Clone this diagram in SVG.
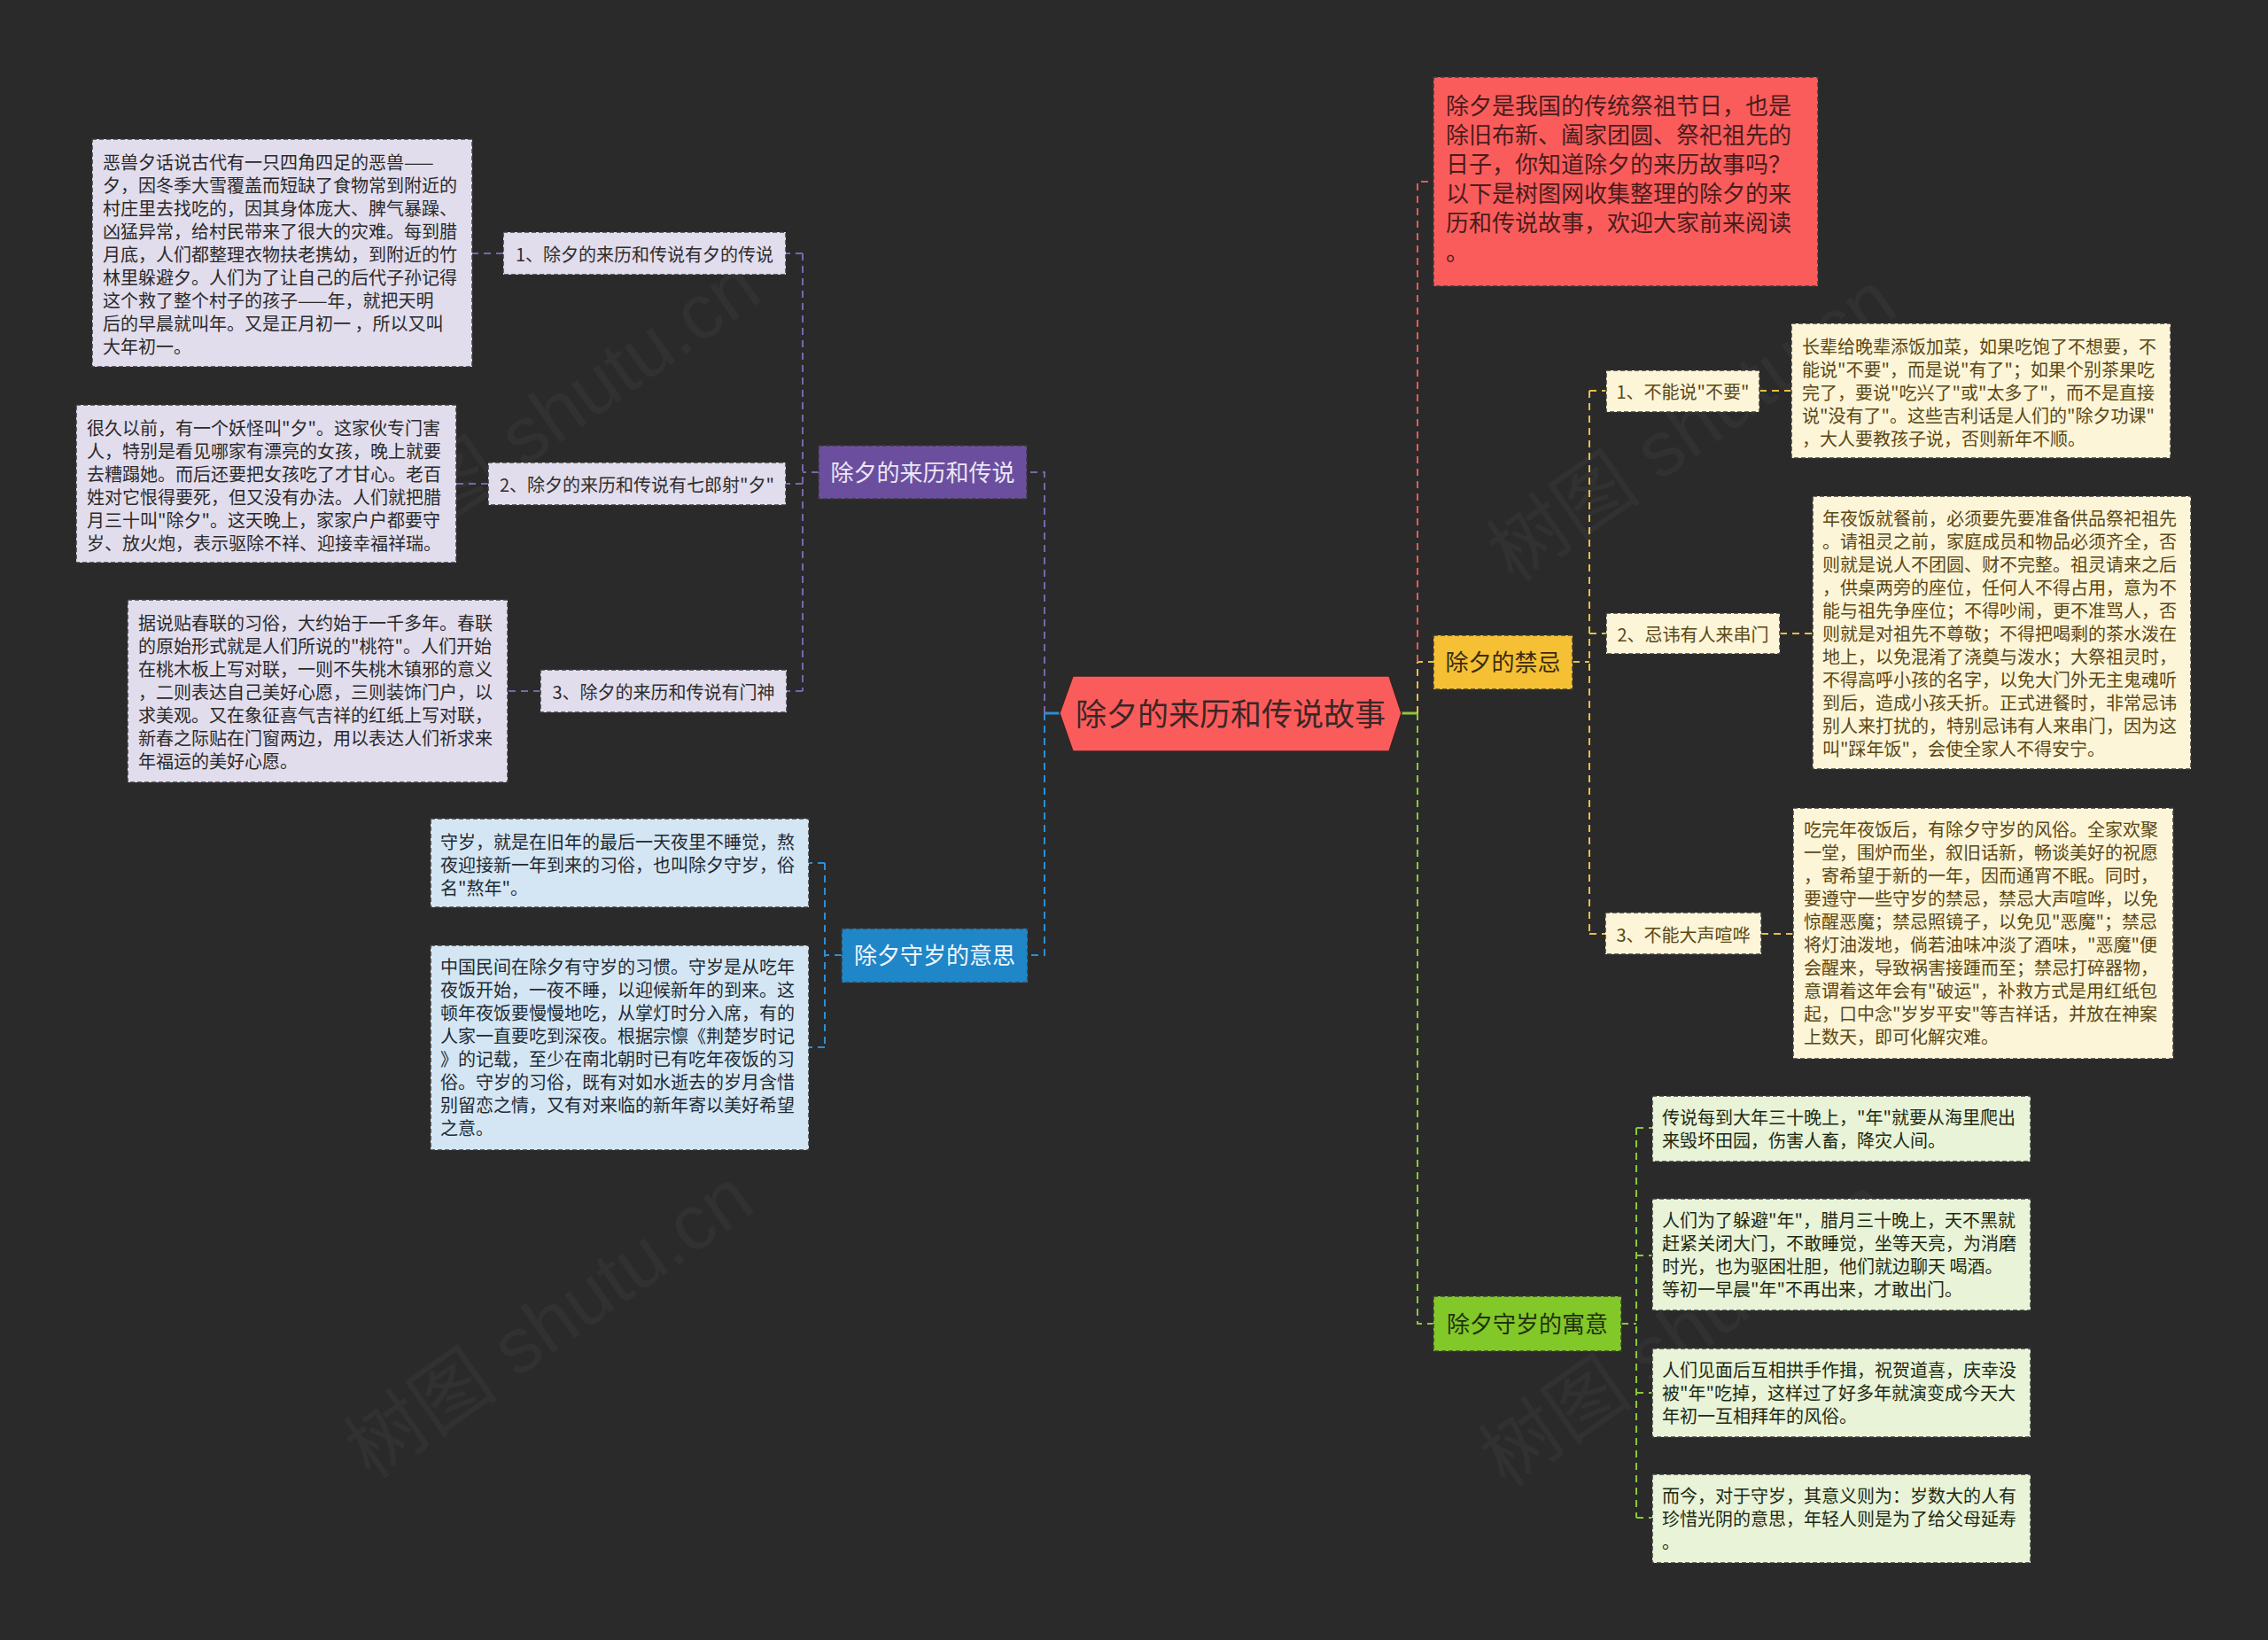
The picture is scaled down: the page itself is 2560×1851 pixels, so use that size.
<svg xmlns="http://www.w3.org/2000/svg" width="2560" height="1851" viewBox="0 0 2560 1851">
<style>
text{font-family:"Noto Sans CJK SC","Noto Sans",sans-serif;}
.leaf{font-size:20px;dominant-baseline:central;}
.box{stroke:#3a3a3a;stroke-width:1.5;stroke-dasharray:5 3;}
.c{fill:none;stroke-width:2;stroke-dasharray:8 6;}
.cs{fill:none;stroke-width:3;}
.wm{font-size:88px;fill:#ffffff;opacity:0.03;font-family:"Liberation Sans","Noto Sans CJK SC",sans-serif;}
</style>
<rect x="0" y="0" width="2560" height="1851" fill="#2a2a2a"/>
<g id="watermarks">
<text class="wm" x="645" y="490" text-anchor="middle" transform="rotate(-35 645 490)">树图 shutu.cn</text>
<text class="wm" x="1927" y="506" text-anchor="middle" transform="rotate(-35 1927 506)">树图 shutu.cn</text>
<text class="wm" x="637" y="1518" text-anchor="middle" transform="rotate(-35 637 1518)">树图 shutu.cn</text>
<text class="wm" x="1918" y="1527" text-anchor="middle" transform="rotate(-35 1918 1527)">树图 shutu.cn</text>
</g>
<g id="connectors">
<path class="cs" stroke="#2b8fd6" d="M1196 805 H1179"/>
<path class="c" stroke="#7a66aa" d="M1179 805 V533 H1159"/>
<path class="c" stroke="#2b8fd6" d="M1179 805 V1078 H1160"/>
<path class="c" stroke="#7a66aa" d="M924 533 H906"/>
<path class="c" stroke="#7a66aa" d="M906 286 V780"/>
<path class="c" stroke="#7a66aa" d="M906 286 H887 M568 286 H533"/>
<path class="c" stroke="#7a66aa" d="M906 546 H887 M551 546 H515"/>
<path class="c" stroke="#7a66aa" d="M906 780 H888 M610 780 H573"/>
<path class="c" stroke="#2b8fd6" d="M950 1078 H931 M931 974 V1182 M931 974 H913 M931 1182 H913"/>
<path class="cs" stroke="#8ac73a" d="M1582 805 H1600"/>
<path class="c" stroke="#8ac73a" d="M1600 805 V1494 H1618"/>
<path class="c" stroke="#e6bf45" d="M1600 805 V747 H1618"/>
<path class="c" stroke="#e85858" d="M1600 747 V205 H1618"/>
<path class="c" stroke="#e6bf45" d="M1775 747 H1794 M1794 441 V1054"/>
<path class="c" stroke="#e6bf45" d="M1794 441 H1813 M1986 441 H2022"/>
<path class="c" stroke="#e6bf45" d="M1794 715 H1813 M2009 715 H2046"/>
<path class="c" stroke="#e6bf45" d="M1794 1054 H1812 M1988 1054 H2024"/>
<path class="c" stroke="#8ac73a" d="M1830 1494 H1847 M1847 1273 V1713"/>
<path class="c" stroke="#8ac73a" d="M1847 1273 H1865 M1847 1417 H1865 M1847 1572 H1865 M1847 1713 H1865"/>
</g>
<g id="center">
<polygon points="1196,805 1211,763 1568,763 1582,805 1568,848 1211,848" fill="#fa5c5c" stroke="#3a2222" stroke-width="1.5"/>
<text x="1389" y="803" font-size="35" fill="#3b2626" text-anchor="middle" dominant-baseline="central">除夕的来历和传说故事</text>
</g>
<g id="intro">
<rect class="box" x="1618" y="87" width="434" height="236" fill="#fa5c5c"/>
<text font-size="26" fill="#4a1c1c" dominant-baseline="central" transform="translate(0,-4)">
<tspan x="1632" y="121">除夕是我国的传统祭祖节日，也是</tspan>
<tspan x="1632" y="154">除旧布新、阖家团圆、祭祀祖先的</tspan>
<tspan x="1632" y="187">日子，你知道除夕的来历故事吗？</tspan>
<tspan x="1632" y="220">以下是树图网收集整理的除夕的来</tspan>
<tspan x="1632" y="253">历和传说故事，欢迎大家前来阅读</tspan>
<tspan x="1632" y="286">。</tspan>
</text>
</g>
<g id="branch-purple">
<rect class="box" x="924" y="503" width="235" height="60" fill="#6b4f9e"/>
<text x="1041.5" y="531" font-size="26" fill="#ece6f6" text-anchor="middle" dominant-baseline="central">除夕的来历和传说</text>
</g>
<g id="label-p1">
<rect class="box" x="568" y="262" width="319" height="48" fill="#e2dded"/>
<text class="leaf" x="727.5" y="286" fill="#2e2e2e" text-anchor="middle">1、除夕的来历和传说有夕的传说</text>
</g>
<g id="label-p2">
<rect class="box" x="551" y="522" width="336" height="48" fill="#e2dded"/>
<text class="leaf" x="719" y="546" fill="#2e2e2e" text-anchor="middle">2、除夕的来历和传说有七郎射"夕"</text>
</g>
<g id="label-p3">
<rect class="box" x="610" y="756" width="278" height="48" fill="#e2dded"/>
<text class="leaf" x="749" y="780" fill="#2e2e2e" text-anchor="middle">3、除夕的来历和传说有门神</text>
</g>
<g id="leaf-p1">
<rect class="box" x="104" y="157" width="429" height="257" fill="#e2dded"/>
<text class="leaf" fill="#2a2a2a" transform="translate(0,-3)">
<tspan x="116" y="185">恶兽夕话说古代有一只四角四足的恶兽——</tspan>
<tspan x="116" y="211">夕，因冬季大雪覆盖而短缺了食物常到附近的</tspan>
<tspan x="116" y="237">村庄里去找吃的，因其身体庞大、脾气暴躁、</tspan>
<tspan x="116" y="263">凶猛异常，给村民带来了很大的灾难。每到腊</tspan>
<tspan x="116" y="289">月底，人们都整理衣物扶老携幼，到附近的竹</tspan>
<tspan x="116" y="315">林里躲避夕。人们为了让自己的后代子孙记得</tspan>
<tspan x="116" y="341">这个救了整个村子的孩子——年，就把天明</tspan>
<tspan x="116" y="367">后的早晨就叫年。又是正月初一 ，所以又叫</tspan>
<tspan x="116" y="393">大年初一。</tspan>
</text>
</g>
<g id="leaf-p2">
<rect class="box" x="86" y="457" width="429" height="178" fill="#e2dded"/>
<text class="leaf" fill="#2a2a2a" transform="translate(0,-3)">
<tspan x="98" y="485">很久以前，有一个妖怪叫"夕"。这家伙专门害</tspan>
<tspan x="98" y="511">人，特别是看见哪家有漂亮的女孩，晚上就要</tspan>
<tspan x="98" y="537">去糟蹋她。而后还要把女孩吃了才甘心。老百</tspan>
<tspan x="98" y="563">姓对它恨得要死，但又没有办法。人们就把腊</tspan>
<tspan x="98" y="589">月三十叫"除夕"。这天晚上，家家户户都要守</tspan>
<tspan x="98" y="615">岁、放火炮，表示驱除不祥、迎接幸福祥瑞。</tspan>
</text>
</g>
<g id="leaf-p3">
<rect class="box" x="144" y="677" width="429" height="206" fill="#e2dded"/>
<text class="leaf" fill="#2a2a2a" transform="translate(0,-3)">
<tspan x="156" y="705">据说贴春联的习俗，大约始于一千多年。春联</tspan>
<tspan x="156" y="731">的原始形式就是人们所说的"桃符"。人们开始</tspan>
<tspan x="156" y="757">在桃木板上写对联，一则不失桃木镇邪的意义</tspan>
<tspan x="156" y="783">，二则表达自己美好心愿，三则装饰门户，以</tspan>
<tspan x="156" y="809">求美观。又在象征喜气吉祥的红纸上写对联，</tspan>
<tspan x="156" y="835">新春之际贴在门窗两边，用以表达人们祈求来</tspan>
<tspan x="156" y="861">年福运的美好心愿。</tspan>
</text>
</g>
<g id="branch-blue">
<rect class="box" x="950" y="1048" width="210" height="61" fill="#1f86c8"/>
<text x="1055" y="1076" font-size="26" fill="#eef6fc" text-anchor="middle" dominant-baseline="central">除夕守岁的意思</text>
</g>
<g id="leaf-b1">
<rect class="box" x="486" y="924" width="427" height="100" fill="#d4e6f3"/>
<text class="leaf" fill="#1f2a33" transform="translate(0,-3)">
<tspan x="497" y="952">守岁，就是在旧年的最后一天夜里不睡觉，熬</tspan>
<tspan x="497" y="978">夜迎接新一年到来的习俗，也叫除夕守岁，俗</tspan>
<tspan x="497" y="1004">名"熬年"。</tspan>
</text>
</g>
<g id="leaf-b2">
<rect class="box" x="486" y="1067" width="427" height="231" fill="#d4e6f3"/>
<text class="leaf" fill="#1f2a33" transform="translate(0,-3)">
<tspan x="497" y="1093">中国民间在除夕有守岁的习惯。守岁是从吃年</tspan>
<tspan x="497" y="1119">夜饭开始，一夜不睡，以迎候新年的到来。这</tspan>
<tspan x="497" y="1145">顿年夜饭要慢慢地吃，从掌灯时分入席，有的</tspan>
<tspan x="497" y="1171">人家一直要吃到深夜。根据宗懔《荆楚岁时记</tspan>
<tspan x="497" y="1197">》的记载，至少在南北朝时已有吃年夜饭的习</tspan>
<tspan x="497" y="1223">俗。守岁的习俗，既有对如水逝去的岁月含惜</tspan>
<tspan x="497" y="1249">别留恋之情，又有对来临的新年寄以美好希望</tspan>
<tspan x="497" y="1275">之意。</tspan>
</text>
</g>
<g id="branch-yellow">
<rect class="box" x="1618" y="717" width="157" height="61" fill="#f5c033"/>
<text x="1696.5" y="745" font-size="26" fill="#3a2b10" text-anchor="middle" dominant-baseline="central">除夕的禁忌</text>
</g>
<g id="label-y1">
<rect class="box" x="1813" y="418" width="173" height="47" fill="#fdf5d8"/>
<text class="leaf" x="1899.5" y="441" fill="#5a4814" text-anchor="middle">1、不能说"不要"</text>
</g>
<g id="label-y2">
<rect class="box" x="1813" y="692" width="196" height="46" fill="#fdf5d8"/>
<text class="leaf" x="1911" y="715" fill="#5a4814" text-anchor="middle">2、忌讳有人来串门</text>
</g>
<g id="label-y3">
<rect class="box" x="1812" y="1030" width="176" height="47" fill="#fdf5d8"/>
<text class="leaf" x="1900" y="1054" fill="#5a4814" text-anchor="middle">3、不能大声喧哗</text>
</g>
<g id="leaf-y1">
<rect class="box" x="2022" y="365" width="428" height="152" fill="#fdf5d8"/>
<text class="leaf" fill="#5a4814" transform="translate(0,-3)">
<tspan x="2034" y="393">长辈给晚辈添饭加菜，如果吃饱了不想要，不</tspan>
<tspan x="2034" y="419">能说"不要"，而是说"有了"；如果个别茶果吃</tspan>
<tspan x="2034" y="445">完了，要说"吃兴了"或"太多了"，而不是直接</tspan>
<tspan x="2034" y="471">说"没有了"。这些吉利话是人们的"除夕功课"</tspan>
<tspan x="2034" y="497">，大人要教孩子说，否则新年不顺。</tspan>
</text>
</g>
<g id="leaf-y2">
<rect class="box" x="2046" y="560" width="427" height="308" fill="#fdf5d8"/>
<text class="leaf" fill="#5a4814" transform="translate(0,-3)">
<tspan x="2057" y="587">年夜饭就餐前，必须要先要准备供品祭祀祖先</tspan>
<tspan x="2057" y="613">。请祖灵之前，家庭成员和物品必须齐全，否</tspan>
<tspan x="2057" y="639">则就是说人不团圆、财不完整。祖灵请来之后</tspan>
<tspan x="2057" y="665">，供桌两旁的座位，任何人不得占用，意为不</tspan>
<tspan x="2057" y="691">能与祖先争座位；不得吵闹，更不准骂人，否</tspan>
<tspan x="2057" y="717">则就是对祖先不尊敬；不得把喝剩的茶水泼在</tspan>
<tspan x="2057" y="743">地上，以免混淆了浇奠与泼水；大祭祖灵时，</tspan>
<tspan x="2057" y="769">不得高呼小孩的名字，以免大门外无主鬼魂听</tspan>
<tspan x="2057" y="795">到后，造成小孩夭折。正式进餐时，非常忌讳</tspan>
<tspan x="2057" y="821">别人来打扰的，特别忌讳有人来串门，因为这</tspan>
<tspan x="2057" y="847">叫"踩年饭"，会使全家人不得安宁。</tspan>
</text>
</g>
<g id="leaf-y3">
<rect class="box" x="2024" y="912" width="429" height="283" fill="#fdf5d8"/>
<text class="leaf" fill="#5a4814" transform="translate(0,-3)">
<tspan x="2036" y="938">吃完年夜饭后，有除夕守岁的风俗。全家欢聚</tspan>
<tspan x="2036" y="964">一堂，围炉而坐，叙旧话新，畅谈美好的祝愿</tspan>
<tspan x="2036" y="990">，寄希望于新的一年，因而通宵不眠。同时，</tspan>
<tspan x="2036" y="1016">要遵守一些守岁的禁忌，禁忌大声喧哗，以免</tspan>
<tspan x="2036" y="1042">惊醒恶魔；禁忌照镜子，以免见"恶魔"；禁忌</tspan>
<tspan x="2036" y="1068">将灯油泼地，倘若油味冲淡了酒味，"恶魔"便</tspan>
<tspan x="2036" y="1094">会醒来，导致祸害接踵而至；禁忌打碎器物，</tspan>
<tspan x="2036" y="1120">意谓着这年会有"破运"，补救方式是用红纸包</tspan>
<tspan x="2036" y="1146">起，口中念"岁岁平安"等吉祥话，并放在神案</tspan>
<tspan x="2036" y="1172">上数天，即可化解灾难。</tspan>
</text>
</g>
<g id="branch-green">
<rect class="box" x="1618" y="1463" width="212" height="62" fill="#82c828"/>
<text x="1724" y="1492" font-size="26" fill="#22300f" text-anchor="middle" dominant-baseline="central">除夕守岁的寓意</text>
</g>
<g id="leaf-g1">
<rect class="box" x="1865" y="1237" width="427" height="74" fill="#e8f3d8"/>
<text class="leaf" fill="#1e2a12" transform="translate(0,-3)">
<tspan x="1876" y="1263">传说每到大年三十晚上，"年"就要从海里爬出</tspan>
<tspan x="1876" y="1289">来毁坏田园，伤害人畜，降灾人间。</tspan>
</text>
</g>
<g id="leaf-g2">
<rect class="box" x="1865" y="1353" width="427" height="126" fill="#e8f3d8"/>
<text class="leaf" fill="#1e2a12" transform="translate(0,-3)">
<tspan x="1876" y="1379">人们为了躲避"年"，腊月三十晚上，天不黑就</tspan>
<tspan x="1876" y="1405">赶紧关闭大门，不敢睡觉，坐等天亮，为消磨</tspan>
<tspan x="1876" y="1431">时光，也为驱困壮胆，他们就边聊天 喝酒。</tspan>
<tspan x="1876" y="1457">等初一早晨"年"不再出来，才敢出门。</tspan>
</text>
</g>
<g id="leaf-g3">
<rect class="box" x="1865" y="1522" width="427" height="100" fill="#e8f3d8"/>
<text class="leaf" fill="#1e2a12" transform="translate(0,-3)">
<tspan x="1876" y="1548">人们见面后互相拱手作揖，祝贺道喜，庆幸没</tspan>
<tspan x="1876" y="1574">被"年"吃掉，这样过了好多年就演变成今天大</tspan>
<tspan x="1876" y="1600">年初一互相拜年的风俗。</tspan>
</text>
</g>
<g id="leaf-g4">
<rect class="box" x="1865" y="1664" width="427" height="100" fill="#e8f3d8"/>
<text class="leaf" fill="#1e2a12" transform="translate(0,-3)">
<tspan x="1876" y="1690">而今，对于守岁，其意义则为：岁数大的人有</tspan>
<tspan x="1876" y="1716">珍惜光阴的意思，年轻人则是为了给父母延寿</tspan>
<tspan x="1876" y="1742">。</tspan>
</text>
</g>
</svg>
